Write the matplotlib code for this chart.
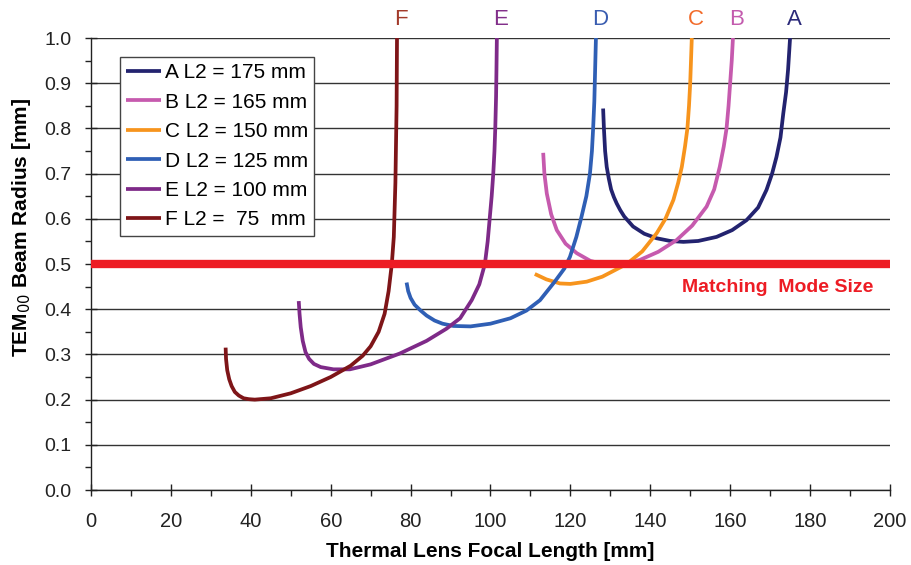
import matplotlib
matplotlib.use('Agg')
import matplotlib.pyplot as plt
from matplotlib.ticker import MultipleLocator

# beam radius vs thermal lens focal length for several L2 values

f_A = [128.2, 128.4, 128.7, 129.1, 129.6, 130.2, 130.9, 131.6, 132.5, 133.5, 135.7, 138.5, 141.6, 145, 148.3, 152, 156.6, 160.5, 164.1, 167, 169.1, 170.5, 171.6, 172.6, 173.3, 174.0, 174.5, 175.0]
w_A = [0.844, 0.80, 0.75, 0.715, 0.69, 0.665, 0.648, 0.634, 0.619, 0.605, 0.583, 0.567, 0.557, 0.551, 0.549, 0.551, 0.560, 0.575, 0.597, 0.625, 0.664, 0.70, 0.737, 0.78, 0.833, 0.88, 0.93, 1.0]

f_B = [113.2, 113.5, 114.1, 115.2, 116.6, 118.8, 121.6, 125, 129.1, 133, 137.4, 142, 146.6, 150.5, 154.1, 156.0, 157.4, 158.4, 159.1, 159.6, 160.0, 160.4, 160.7]
w_B = [0.746, 0.70, 0.656, 0.61, 0.575, 0.545, 0.524, 0.507, 0.498, 0.499, 0.509, 0.527, 0.553, 0.585, 0.627, 0.665, 0.715, 0.76, 0.80, 0.85, 0.90, 0.95, 1.0]

f_C = [111.1, 114, 117.4, 120, 124.1, 128, 134.1, 138, 141.6, 143.8, 145.8, 147.0, 147.9, 148.7, 149.3, 149.7, 150.0, 150.2, 150.4]
w_C = [0.478, 0.466, 0.457, 0.456, 0.461, 0.472, 0.50, 0.528, 0.568, 0.60, 0.642, 0.68, 0.715, 0.76, 0.80, 0.85, 0.90, 0.95, 1.0]

f_D = [79.0, 79.4, 80.0, 81.0, 82.4, 84, 86, 88, 90.7, 95, 100, 105, 109, 112.4, 116, 118.5, 119.9, 121.5, 122.8, 124.0, 124.9, 125.4, 125.7, 126.0, 126.2, 126.4]
w_D = [0.459, 0.44, 0.425, 0.41, 0.398, 0.386, 0.375, 0.368, 0.363, 0.362, 0.368, 0.38, 0.397, 0.42, 0.46, 0.49, 0.516, 0.56, 0.605, 0.65, 0.70, 0.75, 0.80, 0.86, 0.93, 1.0]

f_E = [52.0, 52.2, 52.5, 53.0, 53.7, 54.6, 55.8, 57.5, 60.7, 64.8, 70, 77.3, 84, 89, 92.4, 95.3, 97.2, 98.6, 99.3, 99.8, 100.3, 100.7, 101.0, 101.2, 101.4, 101.5, 101.6]
w_E = [0.418, 0.39, 0.36, 0.33, 0.305, 0.29, 0.279, 0.272, 0.267, 0.267, 0.278, 0.302, 0.33, 0.357, 0.38, 0.42, 0.455, 0.50, 0.55, 0.60, 0.65, 0.70, 0.75, 0.80, 0.87, 0.93, 1.0]

f_F = [33.7, 33.8, 34.1, 34.6, 35.2, 36.0, 37.0, 38.2, 39.5, 41.0, 45, 50, 55, 60, 65, 68, 70, 72, 73.5, 74.5, 75.3, 75.8, 76.2, 76.5, 76.6]
w_F = [0.315, 0.29, 0.265, 0.245, 0.23, 0.217, 0.209, 0.203, 0.201, 0.200, 0.203, 0.214, 0.230, 0.250, 0.275, 0.297, 0.318, 0.35, 0.39, 0.44, 0.50, 0.56, 0.68, 0.85, 1.0]

names = ['A', 'B', 'C', 'D', 'E', 'F']
labels = ['A L2 = 175 mm', 'B L2 = 165 mm', 'C L2 = 150 mm',
          'D L2 = 125 mm', 'E L2 = 100 mm', 'F L2 =  75  mm']
xs = [f_A, f_B, f_C, f_D, f_E, f_F]
ys = [w_A, w_B, w_C, w_D, w_E, w_F]
colors = ['#23236F', '#C65AAE', '#F7941D', '#2F5FB5', '#7E2A88', '#7E1518']
letter_colors = ['#2B2A7A', '#C35BAE', '#F26B2A', '#3A5DB0', '#822F8A', '#A23A2A']

matching_mode = 0.5

plt.rcParams['font.family'] = ['Liberation Sans', 'DejaVu Sans']

fig = plt.figure(figsize=(9.12, 5.65), dpi=100)
ax = fig.add_axes([0.0998, 0.1327, 0.876, 0.80])

for x, y, c, lab in zip(xs, ys, colors, labels):
    ax.plot(x, y, color=c, lw=2.7, label=lab, zorder=3,
            solid_capstyle='butt', solid_joinstyle='round')

ax.axhline(matching_mode, color='#ED1C24', lw=6, zorder=4)
ax.text(171.8, 0.447, 'Matching  Mode Size', color='#ED1C24',
        fontsize=14, fontweight='bold', ha='center', va='center')

# curve letters above the plot at their asymptote
for x, name, c in zip(xs, names, letter_colors):
    ax.text(x[-1] + 1.0, 1.018, name, color=c, fontsize=16,
            ha='center', va='bottom', clip_on=False)

ax.set_xlim(0, 200)
ax.set_ylim(0, 1.0)
ax.xaxis.set_major_locator(MultipleLocator(20))
ax.xaxis.set_minor_locator(MultipleLocator(10))
ax.yaxis.set_major_locator(MultipleLocator(0.1))
ax.yaxis.set_minor_locator(MultipleLocator(0.05))
ax.yaxis.set_major_formatter(plt.FormatStrFormatter('%.1f'))

ax.grid(axis='y', which='major', color='#333333', lw=1.0)
ax.set_axisbelow(True)
for s in ['top', 'right']:
    ax.spines[s].set_visible(False)
for s in ['left', 'bottom']:
    ax.spines[s].set_color('#222222')
    ax.spines[s].set_linewidth(1.0)

ax.tick_params(which='major', direction='inout', length=8, width=1,
               labelsize=14, colors='#222222')
ax.tick_params(which='minor', direction='out', length=4, width=1,
               colors='#222222')
ax.tick_params(axis='x', labelsize=14.5, pad=12)
ax.tick_params(axis='y', pad=10)

ax.set_xlabel('Thermal Lens Focal Length [mm]', fontsize=15,
              fontweight='bold', labelpad=8)
ax.set_ylabel('TEM$_{00}$ Beam Radius [mm]', fontsize=15, fontweight='bold')
ax.yaxis.set_label_coords(-0.073, 0.58)

leg = ax.legend(loc='upper left', bbox_to_anchor=(0.036, 0.958),
                borderaxespad=0, fancybox=False, edgecolor='#444444',
                fontsize=15, handlelength=1.7, handletextpad=0.15,
                labelspacing=0.5, borderpad=0.3, framealpha=1)
leg.get_frame().set_linewidth(1.0)

fig.savefig('out.png', dpi=100)
